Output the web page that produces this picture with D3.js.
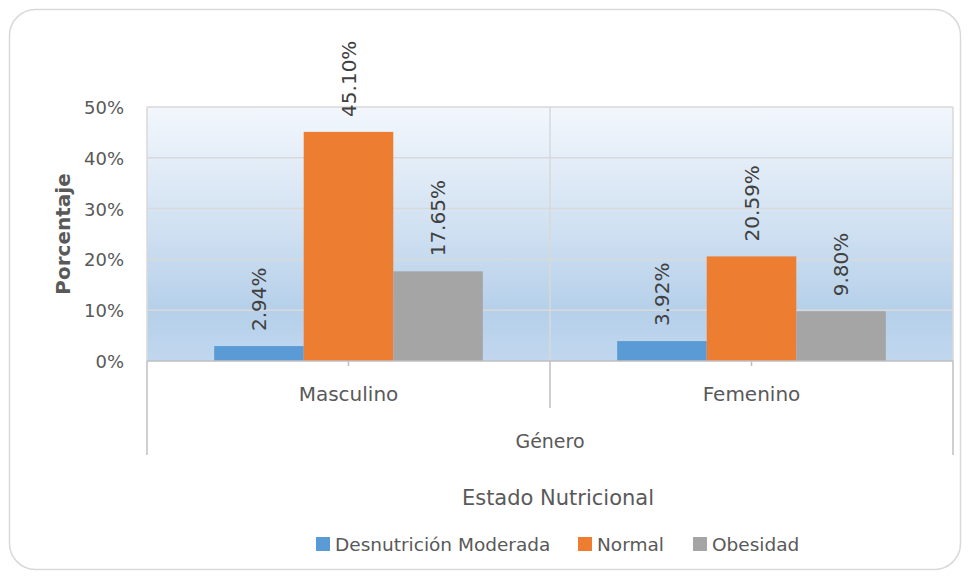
<!DOCTYPE html>
<html><head><meta charset="utf-8">
<script src="https://cdn.jsdelivr.net/npm/d3@7"></script>
<style>
html,body{margin:0;padding:0;background:#fff;}
text{font-family:"DejaVu Sans",sans-serif;}
</style></head>
<body><svg id="c" width="970" height="579"></svg>
<script>
const categories = ["Masculino","Femenino"];
const series = ["Desnutrición Moderada","Normal","Obesidad"];
const values = {
  "Desnutrición Moderada":[2.94,3.92],
  "Normal":[45.10,20.59],
  "Obesidad":[17.65,9.80]
};
const colors = ["#5b9bd5","#ed7d31","#a5a5a5"];
const yTicks = [0,10,20,30,40,50];
const axisTitleX = "Género";
const axisTitleY = "Porcentaje";
const legendTitle = "Estado Nutricional";

const svg = d3.select("#c");
const M = {left:147,right:953,top:107,bottom:361};

// outer frame
svg.append("rect").attr("x",9.5).attr("y",9.5).attr("width",951).attr("height",560)
  .attr("rx",26).attr("fill","#fff").attr("stroke","#d9d9d9").attr("stroke-width",1.5);

const defs = svg.append("defs");
const g = defs.append("linearGradient").attr("id","bg").attr("x1",0).attr("y1",0).attr("x2",0).attr("y2",1);
g.append("stop").attr("offset","0%").attr("stop-color","#f3f7fd");
g.append("stop").attr("offset","45%").attr("stop-color","#d2e2f2");
g.append("stop").attr("offset","80%").attr("stop-color","#b6d0ea");
g.append("stop").attr("offset","100%").attr("stop-color","#c0d7ee");

const x0 = d3.scaleBand().domain(categories).range([M.left,M.right]);
const x1 = d3.scaleBand().domain(series).range([0,x0.bandwidth()]).paddingOuter(0.75).paddingInner(0);
const y = d3.scaleLinear().domain([0,50]).range([M.bottom,M.top]);

svg.append("rect").attr("x",M.left).attr("y",M.top).attr("width",M.right-M.left).attr("height",M.bottom-M.top)
  .attr("fill","url(#bg)");

// gridlines
svg.append("g").selectAll("line").data(yTicks.filter(d=>d>0)).join("line")
  .attr("x1",M.left).attr("x2",M.right).attr("y1",d=>y(d)).attr("y2",d=>y(d))
  .attr("stroke","#d9d9d9").attr("stroke-width",1.5);
[M.left, x0("Femenino"), M.right].forEach(xx=>{
  svg.append("line").attr("x1",xx).attr("x2",xx).attr("y1",M.top).attr("y2",M.bottom)
    .attr("stroke","#d9d9d9").attr("stroke-width",1.5);
});

// bars
const grp = svg.append("g").selectAll("g").data(categories).join("g")
  .attr("transform",d=>`translate(${x0(d)},0)`);
grp.selectAll("rect").data((c,ci)=>series.map((s,si)=>({s,si,v:values[s][ci]}))).join("rect")
  .attr("x",d=>x1(d.s)).attr("width",x1.bandwidth())
  .attr("y",d=>y(d.v)).attr("height",d=>y(0)-y(d.v)).attr("fill",d=>colors[d.si]);
grp.selectAll("text").data((c,ci)=>series.map((s,si)=>({s,si,v:values[s][ci]}))).join("text")
  .attr("transform",d=>`translate(${x1(d.s)+x1.bandwidth()/2+7},${y(d.v)-15}) rotate(-90)`)
  .attr("text-anchor","start").attr("font-size",20).attr("fill","#404040")
  .text(d=>d.v.toFixed(2)+"%");

// x axis line
svg.append("line").attr("x1",M.left).attr("x2",M.right).attr("y1",M.bottom).attr("y2",M.bottom)
  .attr("stroke","#bfbfbf").attr("stroke-width",1.5);
svg.append("line").attr("x1",M.left).attr("x2",M.left).attr("y1",M.bottom).attr("y2",455).attr("stroke","#bfbfbf").attr("stroke-width",1.5);
svg.append("line").attr("x1",M.right).attr("x2",M.right).attr("y1",M.bottom).attr("y2",455).attr("stroke","#bfbfbf").attr("stroke-width",1.5);
svg.append("line").attr("x1",x0("Femenino")).attr("x2",x0("Femenino")).attr("y1",M.bottom).attr("y2",408).attr("stroke","#bfbfbf").attr("stroke-width",1.5);
categories.forEach(c=>{
  const cx = x0(c)+x0.bandwidth()/2;
  svg.append("line").attr("x1",cx).attr("x2",cx).attr("y1",M.bottom).attr("y2",M.bottom+5).attr("stroke","#bfbfbf").attr("stroke-width",1.5);
  svg.append("text").attr("x",cx).attr("y",401).attr("text-anchor","middle").attr("font-size",20).attr("fill","#595959").text(c);
});
svg.append("text").attr("x",(M.left+M.right)/2).attr("y",448).attr("text-anchor","middle").attr("font-size",19).attr("fill","#595959").text(axisTitleX);

// y tick labels
svg.append("g").selectAll("text").data(yTicks).join("text")
  .attr("x",124).attr("y",d=>y(d)+7).attr("text-anchor","end").attr("font-size",18).attr("fill","#595959")
  .text(d=>d+"%");
svg.append("text").attr("transform",`translate(70,${(M.top+M.bottom)/2}) rotate(-90)`)
  .attr("text-anchor","middle").attr("font-size",20).attr("font-weight","bold").attr("fill","#595959").text(axisTitleY);

// legend title
svg.append("text").attr("x",558).attr("y",505).attr("text-anchor","middle").attr("font-size",21).attr("fill","#595959").text(legendTitle);

// legend
const legX = [316,578,693];
series.forEach((s,i)=>{
  svg.append("rect").attr("x",legX[i]).attr("y",537).attr("width",14).attr("height",14).attr("fill",colors[i]);
  svg.append("text").attr("x",legX[i]+19).attr("y",551).attr("font-size",18.5).attr("fill","#595959").text(s);
});
</script></body></html>
